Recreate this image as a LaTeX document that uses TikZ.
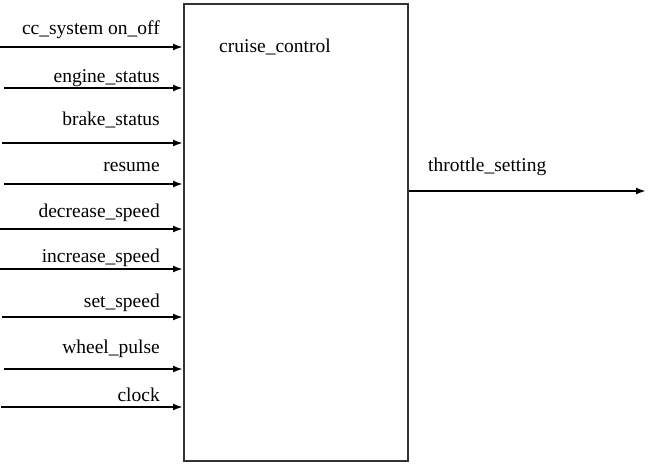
\documentclass[tikz,border=0pt]{standalone}
\usepackage{fontspec}
\setmainfont{Liberation Serif}
\usetikzlibrary{arrows.meta}
\begin{document}
\begin{tikzpicture}[x=1pt,y=-1pt,
  lbl/.style={font=\fontsize{19.5}{22}\selectfont, inner sep=0pt},
  inarrow/.style={line width=2.2pt, -{Latex[length=10pt,width=7pt]}},
  blk/.style={draw=black!80, line width=2pt, minimum width=224pt, minimum height=457pt, inner sep=0pt, anchor=north west}]
\useasboundingbox (0,0) rectangle (649,472);
\node[blk] (cc) at (183,3) {};
\node[lbl, anchor=base west] (cct) at (219,52) {cruise\_control};
% inputs
\foreach \i/\sx/\ay/\by/\txt in {
  1/0/47/34/{cc\_system on\_off},
  2/4/88/82/{engine\_status},
  3/2/143/125/{brake\_status},
  4/4/184/171/{resume},
  5/0/229/217/{decrease\_speed},
  6/0/269/262/{increase\_speed},
  7/2/317/307/{set\_speed},
  8/4/369/353/{wheel\_pulse},
  9/1/407/401/{clock}} {
  \coordinate (s\i) at (\sx,\ay);
  \draw[inarrow] (s\i) -- (s\i -| cc.west);
  \node[lbl, anchor=base east] (l\i) at (160,\by) {\txt};
}
% output
\coordinate (o) at (646,191);
\draw[inarrow] (o -| cc.east) -- (o);
\node[lbl, anchor=base west] (lo) at (428,171) {throttle\_setting};
\end{tikzpicture}
\end{document}
